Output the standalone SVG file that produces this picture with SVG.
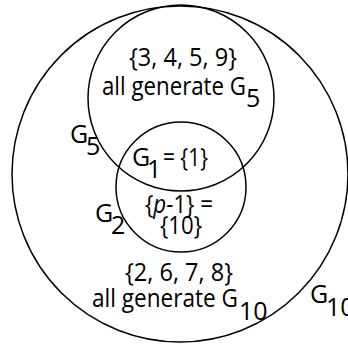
<svg xmlns="http://www.w3.org/2000/svg" width="348" height="346" viewBox="0 0 348 346">
<style>
.c{fill:none;stroke:#000;stroke-width:1.5}
text{font-family:"Open Sans","Noto Sans",sans-serif;font-size:25px;fill:#000}
</style>
<rect width="348" height="346" fill="#fff"/>
<g id="G10"><circle class="c" cx="180" cy="174" r="168"/></g>
<g id="G5"><circle class="c" cx="181" cy="98" r="93"/></g>
<g id="G2"><circle class="c" cx="181" cy="187" r="65"/></g>
<g id="labels">
<text x="129" y="66" textLength="108" lengthAdjust="spacingAndGlyphs">{3, 4, 5, 9}</text>
<text x="102" y="95" textLength="144" lengthAdjust="spacingAndGlyphs">all generate G</text><text x="246" y="107">5</text>
<text x="70" y="143">G</text><text x="86" y="155">5</text>
<text x="132" y="166">G</text><text x="147" y="178">1</text><text x="163" y="166" textLength="45" lengthAdjust="spacingAndGlyphs">= {1}</text>
<text x="145" y="213" textLength="68" lengthAdjust="spacingAndGlyphs">{<tspan font-style="italic">p</tspan>-1} =</text>
<text x="160" y="234" textLength="42" lengthAdjust="spacingAndGlyphs">{10}</text>
<text x="95" y="222">G</text><text x="111" y="234">2</text>
<text x="125" y="281" textLength="108" lengthAdjust="spacingAndGlyphs">{2, 6, 7, 8}</text>
<text x="92" y="307" textLength="146" lengthAdjust="spacingAndGlyphs">all generate G</text><text x="239" y="320">10</text>
<text x="310" y="303">G</text><text x="326" y="316">10</text>
</g>
</svg>
